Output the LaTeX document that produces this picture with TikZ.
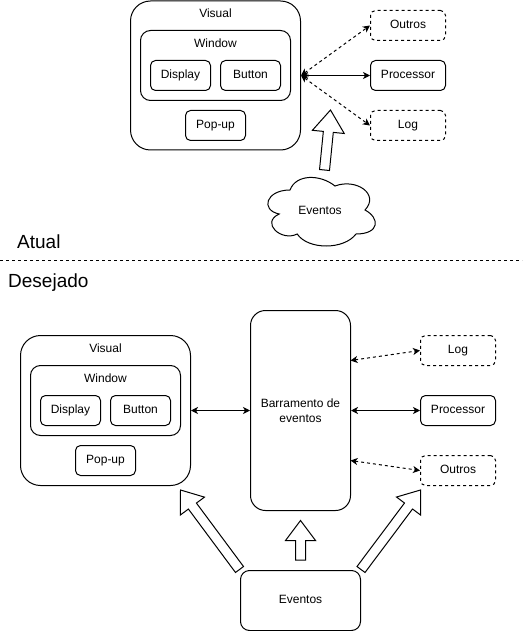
\documentclass[tikz,border=0pt]{standalone}
\usepackage{fontspec}
\setmainfont{Liberation Sans}
\usetikzlibrary{arrows.meta,calc}
\tikzset{
  base/.style={draw, line width=1pt, inner sep=0pt, align=center, font=\fontsize{12}{15}\selectfont},
  onel/.style={text height=9pt, text depth=2.5pt},
  bigbox/.style={base, minimum width=170pt, minimum height=150pt, rounded corners=20pt},
  winbox/.style={base, minimum width=150pt, minimum height=70pt, rounded corners=10pt},
  smallbox/.style={base, onel, minimum width=60pt, minimum height=30pt, rounded corners=5pt},
  sidebox/.style={base, onel, minimum width=75pt, minimum height=30pt, rounded corners=5pt},
  dashbox/.style={sidebox, dash pattern=on 3pt off 3pt},
  lbl/.style={inner sep=0pt, onel, font=\fontsize{12}{15}\selectfont},
  title/.style={inner sep=0pt, anchor=west, font=\fontsize{19}{22}\selectfont},
  conn/.style={line width=1pt, {Stealth[length=7pt,width=7pt,inset=2pt]}-{Stealth[length=7pt,width=7pt,inset=2pt]}},
  dconn/.style={conn, dash pattern=on 3pt off 3pt},
  blockarr/.style={draw, line width=1pt, fill=white, line join=miter},
  sepline/.style={line width=1pt, dash pattern=on 3pt off 3pt},
}
% hollow block arrow: #1 start, #2 tip, #3 shaft half width, #4 head half width, #5 head length
\newcommand{\blockarrow}[5]{%
  \coordinate (bah) at ($(#2)!#5!(#1)$);
  \draw[blockarr] ($(#1)!#3!90:(#2)$) -- ($(bah)!#3!90:(#2)$) -- ($(bah)!#4!90:(#2)$)
    -- (#2) -- ($(bah)!#4!-90:(#2)$) -- ($(bah)!#3!-90:(#2)$) -- ($(#1)!#3!-90:(#2)$) -- cycle;
}
\begin{document}
\begin{tikzpicture}[x=1pt,y=-1pt]
\fill[white] (0,0) rectangle (522,631);
\useasboundingbox (0,0) rectangle (522,631);

% ---------- Atual ----------
\node[bigbox, minimum height=149pt] (vis1) at (215.5,75.5) {};
\node[lbl] (vis1t) at (215.5,14) {Visual};
\node[winbox] (win1) at (215.5,65.5) {};
\node[lbl] (win1t) at (215.5,44) {Window};
\node[smallbox] (disp1) at (180.5,75.5) {Display};
\node[smallbox] (butt1) at (250.5,75.5) {Button};
\node[smallbox] (pop1) at (215.5,125.5) {Pop-up};

\node[dashbox] (out1) at (408,25.5) {Outros};
\node[sidebox] (proc1) at (408,75.5) {Processor};
\node[dashbox] (log1) at (408,125.5) {Log};

\draw[dconn] (vis1.east) -- (out1.west);
\draw[conn] (vis1.east) -- (proc1.west);
\draw[dconn] (vis1.east) -- (log1.west);

% cloud
\draw[line width=1pt] (290,190)
  .. controls (266,190) and (260,210) .. (279.2,214)
  .. controls (260,222.8) and (281.6,242) .. (297.2,234)
  .. controls (308,250) and (344,250) .. (356,234)
  .. controls (380,234) and (380,218) .. (365,210)
  .. controls (380,194) and (356,178) .. (335,186)
  .. controls (320,174) and (296,174) .. (290,190) -- cycle;
\node[lbl] (ev1) at (320,211) {Eventos};

\coordinate (ha1) at (324.5,170);
\coordinate (ht1) at (330.5,110);
\blockarrow{ha1}{ht1}{5pt}{16pt}{22pt}

\node[title] (atual) at (17,242) {Atual};
\draw[sepline] (0,260.5) -- (522,260.5);
\node[title] (desej) at (8,283) {Desejado};

% ---------- Desejado ----------
\node[bigbox] (vis2) at (105.5,410.5) {};
\node[lbl] (vis2t) at (105.5,349) {Visual};
\node[winbox] (win2) at (105.5,400.5) {};
\node[lbl] (win2t) at (105.5,379) {Window};
\node[smallbox] (disp2) at (70.5,410.5) {Display};
\node[smallbox] (butt2) at (140.5,410.5) {Button};
\node[smallbox] (pop2) at (105.5,460.5) {Pop-up};

\node[base, minimum width=100pt, minimum height=200pt, rounded corners=15pt] (bus) at (300.5,410.5) {Barramento de\\eventos};

\node[dashbox] (log2) at (458,350.5) {Log};
\node[sidebox] (proc2) at (458,410.5) {Processor};
\node[dashbox] (out2) at (458,470.5) {Outros};

\node[base, onel, minimum width=120pt, minimum height=60pt, rounded corners=9pt] (ev2) at (300.5,600.5) {Eventos};

\draw[conn] (vis2.east) -- (bus.west);
\coordinate (b1) at (350.5,360.5);
\coordinate (b3) at (350.5,460.5);
\draw[dconn] (b1) -- (log2.west);
\draw[conn] (bus.east) -- (proc2.west);
\draw[dconn] (b3) -- (out2.west);

\coordinate (hcA) at (300.5,560);
\coordinate (hcB) at (300.5,520.5);
\blockarrow{hcA}{hcB}{5pt}{15pt}{20pt}
\coordinate (hlA) at (239.5,569.5);
\coordinate (hlB) at (180.5,490);
\blockarrow{hlA}{hlB}{5pt}{15pt}{20pt}
\coordinate (hrA) at (361,569.5);
\coordinate (hrB) at (420.5,490);
\blockarrow{hrA}{hrB}{5pt}{15pt}{20pt}
\end{tikzpicture}
\end{document}
